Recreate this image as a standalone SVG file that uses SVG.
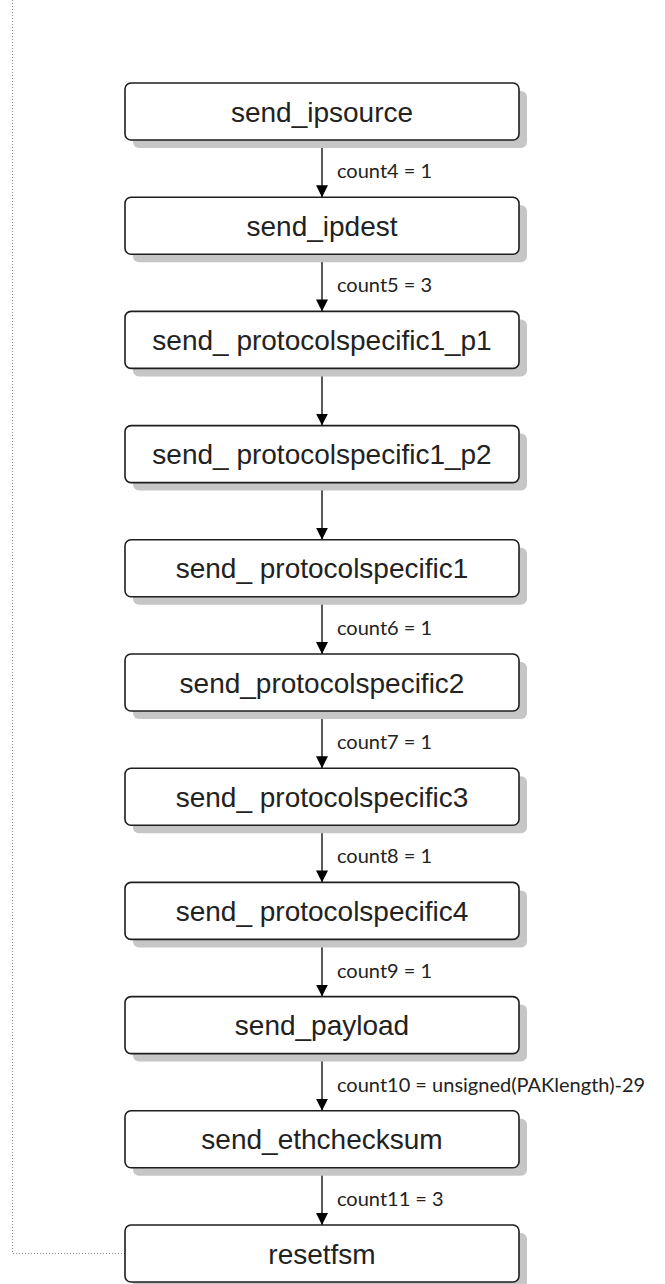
<svg xmlns="http://www.w3.org/2000/svg" width="665" height="1284" viewBox="0 0 665 1284">
<defs>
<style>
.box{fill:#ffffff;stroke:#1e1e1e;stroke-width:1.6}
.sh{fill:#c6c6c6}
.t{font-family:"Liberation Sans",Arial,sans-serif;font-size:28px;fill:#222;text-anchor:middle}
.lbl{font-family:Lato,"Open Sans",sans-serif;font-size:20px;fill:#222}
.e{stroke:#000;stroke-width:1.3;fill:none}
.dot{stroke:#8a8a8a;stroke-width:1;stroke-dasharray:1 2;fill:none}
</style>
<marker id="ah" markerWidth="12" markerHeight="12" viewBox="0 0 12 12" refX="12" refY="6" orient="auto" markerUnits="userSpaceOnUse">
<path d="M0,0 L12,6 L0,12 Z" fill="#000"/>
</marker>
</defs>
<g id="connectors">
<path class="dot" d="M12.5,0 V1253.5 H125"/>
<path class="e" d="M322,140 V197.2" marker-end="url(#ah)"/>
<path class="e" d="M322,254.2 V311.4" marker-end="url(#ah)"/>
<path class="e" d="M322,368.4 V425.6" marker-end="url(#ah)"/>
<path class="e" d="M322,482.6 V539.8" marker-end="url(#ah)"/>
<path class="e" d="M322,596.8 V654" marker-end="url(#ah)"/>
<path class="e" d="M322,711 V768.2" marker-end="url(#ah)"/>
<path class="e" d="M322,825.2 V882.4" marker-end="url(#ah)"/>
<path class="e" d="M322,939.4 V996.6" marker-end="url(#ah)"/>
<path class="e" d="M322,1053.6 V1110.8" marker-end="url(#ah)"/>
<path class="e" d="M322,1167.8 V1225" marker-end="url(#ah)"/>
<text class="lbl" x="337" y="178">count4 = 1</text>
<text class="lbl" x="337" y="292.2">count5 = 3</text>
<text class="lbl" x="337" y="635">count6 = 1</text>
<text class="lbl" x="337" y="749.2">count7 = 1</text>
<text class="lbl" x="337" y="863.4">count8 = 1</text>
<text class="lbl" x="337" y="977.6">count9 = 1</text>
<text class="lbl" x="337" y="1091.8">count10 = unsigned(PAKlength)-29</text>
<text class="lbl" x="337" y="1206">count11 = 3</text>
</g>
<g id="n1"><rect class="sh" x="133" y="91" width="394" height="57" rx="6"/><rect class="box" x="125" y="83" width="394" height="57" rx="6"/><text class="t" x="322" y="121.5">send_ipsource</text></g>
<g id="n2"><rect class="sh" x="133" y="205.2" width="394" height="57" rx="6"/><rect class="box" x="125" y="197.2" width="394" height="57" rx="6"/><text class="t" x="322" y="235.7">send_ipdest</text></g>
<g id="n3"><rect class="sh" x="133" y="319.4" width="394" height="57" rx="6"/><rect class="box" x="125" y="311.4" width="394" height="57" rx="6"/><text class="t" x="322" y="349.9">send_ protocolspecific1_p1</text></g>
<g id="n4"><rect class="sh" x="133" y="433.6" width="394" height="57" rx="6"/><rect class="box" x="125" y="425.6" width="394" height="57" rx="6"/><text class="t" x="322" y="464.1">send_ protocolspecific1_p2</text></g>
<g id="n5"><rect class="sh" x="133" y="547.8" width="394" height="57" rx="6"/><rect class="box" x="125" y="539.8" width="394" height="57" rx="6"/><text class="t" x="322" y="578.3">send_ protocolspecific1</text></g>
<g id="n6"><rect class="sh" x="133" y="662" width="394" height="57" rx="6"/><rect class="box" x="125" y="654" width="394" height="57" rx="6"/><text class="t" x="322" y="692.5">send_protocolspecific2</text></g>
<g id="n7"><rect class="sh" x="133" y="776.2" width="394" height="57" rx="6"/><rect class="box" x="125" y="768.2" width="394" height="57" rx="6"/><text class="t" x="322" y="806.7">send_ protocolspecific3</text></g>
<g id="n8"><rect class="sh" x="133" y="890.4" width="394" height="57" rx="6"/><rect class="box" x="125" y="882.4" width="394" height="57" rx="6"/><text class="t" x="322" y="920.9">send_ protocolspecific4</text></g>
<g id="n9"><rect class="sh" x="133" y="1004.6" width="394" height="57" rx="6"/><rect class="box" x="125" y="996.6" width="394" height="57" rx="6"/><text class="t" x="322" y="1035.1">send_payload</text></g>
<g id="n10"><rect class="sh" x="133" y="1118.8" width="394" height="57" rx="6"/><rect class="box" x="125" y="1110.8" width="394" height="57" rx="6"/><text class="t" x="322" y="1149.3">send_ethchecksum</text></g>
<g id="n11"><rect class="sh" x="133" y="1233" width="394" height="57" rx="6"/><rect class="box" x="125" y="1225" width="394" height="57" rx="6"/><text class="t" x="322" y="1263.5">resetfsm</text></g>
</svg>
